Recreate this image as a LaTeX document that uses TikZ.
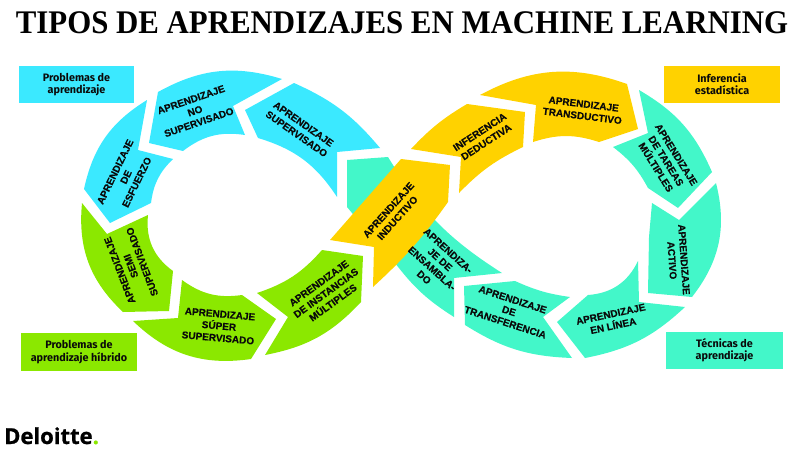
\documentclass[tikz,border=0pt]{standalone}
\usepackage{fontspec}
\usepackage{xcolor}
\setmainfont{Liberation Serif}
\newfontfamily\piecefont[BoldFeatures={FakeBold=0.25}]{Liberation Sans}
\newfontfamily\boxfont{Fira Sans}
\newfontfamily\logofont[BoldFeatures={FakeBold=1}]{Open Sans}
\usetikzlibrary{positioning}
\definecolor{ringblue}{HTML}{3BE9FF}
\definecolor{ringgreen}{HTML}{8BE800}
\definecolor{ringyellow}{HTML}{FFD200}
\definecolor{ringteal}{HTML}{43F7C9}
\definecolor{ringink}{HTML}{0A0A0A}
\tikzset{%
	piecetext/.style = {text=ringink, font=\piecefont\bfseries\fontsize{10}{12}\selectfont, align=center, inner sep=0pt},
	keybox/.style    = {text=ringink, font=\boxfont\bfseries\fontsize{10.8}{12.2}\selectfont, align=center, inner sep=0pt},
}

\begin{document}
\begin{tikzpicture}[x=1pt,y=-1pt]
	\useasboundingbox (0,0) rectangle (800,450);
	\node[inner sep=0pt,anchor=base] (title) at (402,33) {\scalebox{0.935}[1]{\fontsize{33}{34}\selectfont\bfseries TIPOS DE APRENDIZAJES EN MACHINE LEARNING}};
	% left ring
	\fill[ringblue] (147,100) to[bend right=23] (84,189) -- (110,223) -- (151,203) to[bend left=19] (173,159) -- (138,150) -- cycle;
	\fill[ringblue] (158,92) to[bend left=23] (282,79) -- (233,106) -- (245,135) to[bend right=23] (183,151) -- (149,143) -- cycle;
	\fill[ringblue] (294,83) to[bend left=13] (380,148) -- (337,152) -- (337,197) to[bend right=20] (258,138) -- (245,110) -- cycle;
	\fill[ringgreen] (82,203) -- (107,234) -- (148,215) to[bend right=30] (173,271) -- (169,311) -- (123,312) to[bend left=26] cycle;
	\fill[ringgreen] (182,280) to[bend right=22] (242,295) -- (276,319) -- (251,359) to[bend left=26] (133,321) -- (178,318) -- cycle;
	\fill[ringgreen] (257,293) to[bend right=15] (322,250) -- (363,256) -- (361,302) to[bend left=18] (265,355) -- (288,317) -- cycle;
	% right ring
	\fill[ringteal] (347,160) -- (388,157) to[bend right=13] (502,273) -- (454,278) -- (454,317) to[bend left=10] (395,263) -- (352,213) -- (347,207) -- cycle;
	\fill[ringteal] (464,286) -- (515,281) to[bend right=8] (570,297) -- (543,317) -- (572,358) to[bend left=15] (465,325) -- cycle;
	\fill[ringteal] (685,307) to[bend left=16] (585,358) -- (557,322) -- (588,295) to[bend right=30] (638,261) -- (639,302) -- cycle;
	\fill[ringteal] (716,183) to[bend left=26] (692,297) -- (648,293) -- (649,237) -- (652,203) -- (679,220) -- cycle;
	\fill[ringteal] (639,90) to[bend left=18] (712,172) -- (678,208) -- (648,188) to[bend right=12] (613,147) -- (648,133) -- cycle;
	\fill[ringyellow] (330,240) -- (401,159) -- (450,165) -- (448,202) to[bend left=6] (373,287) -- (374,247) -- cycle;
	\fill[ringyellow] (411,149) to[bend left=8] (467,104) -- (525,112) -- (523,147) to[bend right=10] (459,193) -- (461,157) -- cycle;
	\fill[ringyellow] (480,95) to[bend left=24] (627,84) -- (638,129) -- (599,142) to[bend right=18] (533,142) -- (536,105) -- cycle;
	% piece labels
	\node[piecetext,rotate=64] (esfuerzo) at (126,177) {APRENDIZAJE\\DE\\ESFUERZO};
	\node[piecetext,rotate=19] (nosuper) at (195,111) {APRENDIZAJE\\NO\\SUPERVISADO};
	\node[piecetext,rotate=-35] (super) at (300,129) {APRENDIZAJE\\SUPERVISADO};
	\node[piecetext,rotate=111] (semi) at (131,266) {APRENDIZAJE\\SEMI\\SUPERVISADO};
	\node[piecetext,rotate=-5] (supersuper) at (219,326) {APRENDIZAJE\\SÚPER\\SUPERVISADO};
	\node[piecetext,rotate=36] (instancias) at (326,293) {APRENDIZAJE\\DE INSTANCIAS\\MÚLTIPLES};
	\node[piecetext,rotate=48] (inductivo) at (393,214) {APRENDIZAJE\\INDUCTIVO};
	\node[piecetext,rotate=33] (deductiva) at (483,137) {INFERENCIA\\DEDUCTIVA};
	\node[piecetext,rotate=-7] (transductivo) at (583,110) {APRENDIZAJE\\TRANSDUCTIVO};
	\node[piecetext,rotate=-58] (tareas) at (666,161) {APRENDIZAJE\\DE TAREAS\\MÚLTIPLES};
	\node[piecetext,rotate=-86] (activo) at (678,260) {APRENDIZAJE\\ACTIVO};
	\node[piecetext,rotate=12] (enlinea) at (612,320) {APRENDIZAJE\\EN LÍNEA};
	\node[piecetext,rotate=-18] (transferencia) at (509,311) {APRENDIZAJE\\DE\\TRANSFERENCIA};
	\node[piecetext,rotate=-42] (ensamble) at (436,264) {APRENDIZA-\\JE DE\\ENSAMBLA-\\DO};
	% key boxes
	\fill[ringblue] (19,66) rectangle (134,103);
	\node[keybox] (problemas) at (76.5,84.5) {Problemas de\\aprendizaje};
	\fill[ringyellow] (664,66) rectangle (780,103);
	\node[keybox] (inferencia) at (722,84.5) {Inferencia\\estadística};
	\fill[ringgreen] (21,333) rectangle (137,371);
	\node[keybox] (hibrido) at (79,352) {Problemas de\\aprendizaje híbrido};
	\fill[ringteal] (666,332) rectangle (783,369);
	\node[keybox] (tecnicas) at (724.5,350.5) {Técnicas de\\aprendizaje};
	\node[inner sep=0pt,anchor=base west,font=\logofont\bfseries\fontsize{22}{24}\selectfont] (deloitte) at (4,444) {Deloitte\textcolor{ringgreen}{.}};
\end{tikzpicture}
\end{document}
